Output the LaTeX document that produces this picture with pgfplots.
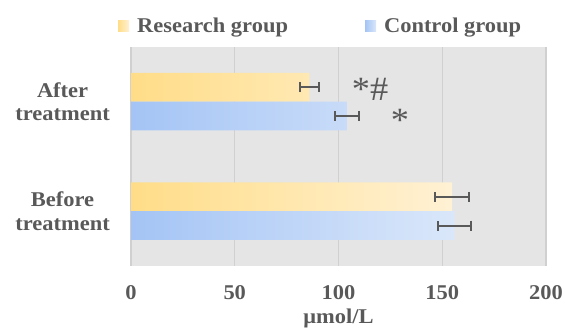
\documentclass[border=0pt]{standalone}
\usepackage{fontspec}
\setmainfont{Liberation Serif}[FakeStretch=1.07]
\usepackage{pgfplots}
\pgfplotsset{compat=1.18}
\definecolor{txt}{HTML}{595959}
\definecolor{bg}{HTML}{E5E5E5}
\definecolor{gridc}{HTML}{D0D0D0}
\definecolor{yL}{HTML}{FFDD88}
\definecolor{yR}{HTML}{FFF1D4}
\definecolor{bL}{HTML}{A4C4F5}
\definecolor{bR}{HTML}{DAE7FA}
\newcommand{\tf}{\bfseries\fontsize{21}{23.5}\selectfont}
\begin{document}
\begin{tikzpicture}
\begin{axis}[
  at={(0,0)}, anchor=south west,
  scale only axis, width=415pt, height=219.3pt,
  xmin=0, xmax=200, ymin=-0.5, ymax=1.5,
  bar width=0.262,
  ytick={0,1}, yticklabels={{Before\\treatment},{After\\treatment}},
  yticklabel style={align=center, font=\tf, text=txt, inner sep=0pt, anchor=east, xshift=-21pt},
  xtick={0,50,100,150,200},
  xticklabel style={font=\tf, text=txt, anchor=center, yshift=-27pt},
  /pgf/number format/assume math mode=true,
  xlabel={μmol/L},
  xlabel style={font=\tf, text=txt, at={(axis description cs:0.5,0)}, anchor=center, yshift=-52pt},
  axis background/.style={fill=bg},
  axis line style={draw=none},
  major tick length=0pt,
  xmajorgrids, grid style={gridc, line width=1.2pt},
  legend style={at={(axis description cs:-0.0313,1)}, anchor=west, yshift=20.7pt, draw=none, fill=none,
    inner sep=0pt, font=\tf, text=txt, legend columns=2,
    /tikz/every odd column/.append style={column sep=6pt},
    /tikz/every even column/.append style={column sep=75pt}},
  legend image code/.code={\fill[#1] (0pt,-5.5pt) rectangle (11pt,5.5pt);},
]
\addplot[xbar, bar shift=0pt, draw=none, left color=yL, right color=yR,
  error bars/.cd, x dir=both, x explicit, error mark=|,
  error bar style={txt, line width=2pt},
  error mark options={txt, line width=2pt, mark size=5pt}]
  coordinates {(154.8,0.131) +- (8.1,0) (86,1.131) +- (4.6,0)};
\addlegendentry{Research group}
\addplot[xbar, bar shift=0pt, draw=none, left color=bL, right color=bR,
  error bars/.cd, x dir=both, x explicit, error mark=|,
  error bar style={txt, line width=2pt},
  error mark options={txt, line width=2pt, mark size=5pt}]
  coordinates {(156,-0.131) +- (7.9,0) (104,0.869) +- (5.8,0)};
\addlegendentry{Control group}
\node[font=\fontsize{34}{34}\selectfont, text=txt, anchor=base] at (axis cs:115.2,1.013) {*\#};
\node[font=\fontsize{34}{34}\selectfont, text=txt, anchor=base] at (axis cs:129.6,0.724) {*};
\end{axis}
\pgfresetboundingbox
\path[use as bounding box] (-131pt,-63pt) rectangle (434pt,266pt);
\end{tikzpicture}
\end{document}
